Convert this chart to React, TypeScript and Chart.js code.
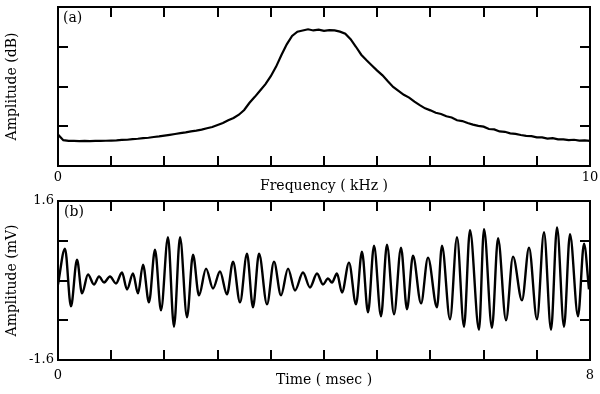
import React, { useEffect, useRef } from 'react';
import { Chart, registerables } from 'chart.js';

Chart.register(...registerables);

// ---------- Panel (a): spectrum ----------
const freqKHz = [
  0.0, 0.1, 0.2, 0.3, 0.4, 0.5, 0.6, 0.7, 0.8, 0.9,
  1.0, 1.1, 1.2, 1.3, 1.4, 1.5, 1.6, 1.7, 1.8, 1.9,
  2.0, 2.1, 2.2, 2.3, 2.4, 2.5, 2.6, 2.7, 2.8, 2.9,
  3.0, 3.1, 3.2, 3.3, 3.4, 3.5, 3.6, 3.7, 3.8, 3.9,
  4.0, 4.1, 4.2, 4.3, 4.4, 4.5, 4.6, 4.7, 4.8, 4.9,
  5.0, 5.1, 5.2, 5.3, 5.4, 5.5, 5.6, 5.7, 5.8, 5.9,
  6.0, 6.1, 6.2, 6.3, 6.4, 6.5, 6.6, 6.7, 6.8, 6.9,
  7.0, 7.1, 7.2, 7.3, 7.4, 7.5, 7.6, 7.7, 7.8, 7.9,
  8.0, 8.1, 8.2, 8.3, 8.4, 8.5, 8.6, 8.7, 8.8, 8.9,
  9.0, 9.1, 9.2, 9.3, 9.4, 9.5, 9.6, 9.7, 9.8, 9.9,
  10.0,
];
const spectrumDb = [
  7.9, 6.5, 6.3, 6.3, 6.25, 6.3, 6.25, 6.3, 6.3, 6.35,
  6.4, 6.45, 6.55, 6.6, 6.75, 6.85, 7.0, 7.1, 7.3, 7.45,
  7.65, 7.85, 8.05, 8.25, 8.45, 8.7, 8.9, 9.15, 9.5, 9.8,
  10.3, 10.8, 11.5, 12.1, 12.9, 14.1, 15.9, 17.4, 19.0, 20.6,
  22.6, 25.0, 27.9, 30.6, 32.7, 33.8, 34.1, 34.4, 34.1, 34.3,
  34.0, 34.2, 34.1, 33.8, 33.3, 31.9, 30.0, 28.0, 26.6, 25.3,
  24.0, 22.8, 21.3, 19.9, 18.9, 17.9, 17.2, 16.2, 15.3, 14.5,
  14.0, 13.4, 13.1, 12.5, 12.2, 11.5, 11.3, 10.8, 10.4, 10.1,
  9.9, 9.3, 9.2, 8.7, 8.6, 8.2, 8.1, 7.8, 7.6, 7.5,
  7.2, 7.2, 6.9, 7.0, 6.7, 6.7, 6.5, 6.6, 6.4, 6.45,
  6.3,
];
const freqTicks = [0, 1, 2, 3, 4, 5, 6, 7, 8, 9, 10];
const freqLabels = ['0', '', '', '', '', '', '', '', '', '', '10'];
const dbTicks = [0, 10, 20, 30, 40];

// ---------- Panel (b): waveform (peaks and troughs) ----------
const timeMs = [
  0.0, 0.105, 0.195, 0.286, 0.361, 0.451, 0.541, 0.617, 0.692, 0.782,
  0.872, 0.962, 1.038, 1.128, 1.203, 1.278, 1.368, 1.459, 1.549, 1.654,
  1.744, 1.835, 1.94, 2.03, 2.12, 2.226, 2.331, 2.436, 2.541, 2.632,
  2.737, 2.842, 2.932, 3.023, 3.143, 3.248, 3.353, 3.459, 3.564, 3.684,
  3.789, 3.895, 3.985, 4.06, 4.12, 4.195, 4.271, 4.376, 4.481, 4.571,
  4.662, 4.752, 4.857, 4.947, 5.053, 5.158, 5.248, 5.338, 5.459, 5.564,
  5.699, 5.774, 5.895, 6.0, 6.105, 6.195, 6.331, 6.406, 6.526, 6.617,
  6.737, 6.842, 6.977, 7.083, 7.203, 7.308, 7.414, 7.504, 7.609, 7.699,
  7.82, 7.91, 7.985,
];
const amplitudeMv = [
  -0.08, 0.64, -0.52, 0.42, -0.26, 0.12, -0.08, 0.08, -0.04, 0.08,
  -0.06, 0.16, -0.18, 0.14, -0.26, 0.32, -0.44, 0.62, -0.6, 0.87,
  -0.93, 0.87, -0.74, 0.52, -0.3, 0.24, -0.16, 0.18, -0.28, 0.38,
  -0.44, 0.54, -0.54, 0.54, -0.48, 0.38, -0.3, 0.24, -0.2, 0.16,
  -0.14, 0.14, -0.08, 0.04, -0.04, 0.14, -0.24, 0.36, -0.48, 0.58,
  -0.64, 0.7, -0.72, 0.72, -0.68, 0.66, -0.58, 0.5, -0.46, 0.46,
  -0.54, 0.7, -0.78, 0.87, -0.93, 1.01, -0.99, 1.03, -0.95, 0.85,
  -0.8, 0.48, -0.4, 0.66, -0.78, 0.97, -0.99, 1.07, -0.93, 0.93,
  -0.72, 0.74, -0.18,
];
const timeTicks = [0, 0.8, 1.6, 2.4, 3.2, 4, 4.8, 5.6, 6.4, 7.2, 8];
const timeLabels = ['0', '', '', '', '', '', '', '', '', '', '8'];
const mvTicks = [-1.6, -0.8, 0, 0.8, 1.6];
const mvLabels = ['-1.6', '', '', '', '1.6'];

const FONT = '"DejaVu Serif", serif';
const INK = '#000';

const framePlugin = {
  id: 'panelFrame',
  afterDraw(chart: any, _args: any, opts: any) {
    const { ctx, chartArea, scales } = chart;
    const { left, right, top, bottom } = chartArea;
    ctx.save();
    ctx.strokeStyle = INK;
    ctx.lineWidth = 2;
    ctx.strokeRect(left, top, right - left, bottom - top);
    const len = 10;
    ctx.beginPath();
    const xs = scales.x;
    xs.ticks.forEach((t: any) => {
      if (t.value <= xs.min || t.value >= xs.max) return;
      const p = Math.round(xs.getPixelForValue(t.value));
      ctx.moveTo(p, bottom);
      ctx.lineTo(p, bottom - len);
      ctx.moveTo(p, top);
      ctx.lineTo(p, top + len);
    });
    const ys = scales.y;
    ys.ticks.forEach((t: any) => {
      if (t.value <= ys.min || t.value >= ys.max) return;
      const p = Math.round(ys.getPixelForValue(t.value));
      ctx.moveTo(left, p);
      ctx.lineTo(left + len, p);
      ctx.moveTo(right, p);
      ctx.lineTo(right - len, p);
    });
    ctx.stroke();
    if (opts && opts.label) {
      ctx.fillStyle = INK;
      ctx.font = '14px ' + FONT;
      ctx.textBaseline = 'middle';
      ctx.textAlign = 'left';
      ctx.fillText(opts.label, left + opts.dx, top + opts.dy);
    }
    ctx.restore();
  },
};

function makeConfig(p: any) {
  return {
    type: 'line',
    data: {
      datasets: [
        {
          data: p.xs.map((x: number, i: number) => ({ x, y: p.ys[i] })),
          borderColor: INK,
          borderWidth: p.lineWidth,
          pointRadius: 0,
          fill: false,
          tension: p.smooth ? 0.4 : 0,
          cubicInterpolationMode: p.smooth ? 'monotone' : 'default',
        },
      ],
    },
    plugins: [framePlugin],
    options: {
      responsive: false,
      animation: false,
      events: [],
      layout: { padding: { top: p.padTop, right: 10, left: 0, bottom: 0 } },
      plugins: {
        legend: { display: false },
        tooltip: { enabled: false },
        panelFrame: { label: p.panel, dx: p.panelDx, dy: 11 },
      },
      scales: {
        x: {
          type: 'linear',
          min: p.xMin,
          max: p.xMax,
          afterBuildTicks: (s: any) => {
            s.ticks = p.xTicks.map((v: number) => ({ value: v }));
          },
          afterFit: (s: any) => {
            s.height = p.xHeight;
            s.paddingLeft = 0;
            s.paddingRight = 0;
          },
          grid: { display: false, drawTicks: false },
          border: { display: false },
          ticks: {
            autoSkip: false,
            maxRotation: 0,
            minRotation: 0,
            padding: p.xTickPad,
            color: INK,
            font: { family: FONT, size: 13 },
            callback: (_v: any, i: number) => p.xLabels[i],
          },
          title: {
            display: true,
            text: p.xTitle,
            color: INK,
            font: { family: FONT, size: 14 },
            padding: { top: 0, bottom: p.xTitlePad },
          },
        },
        y: {
          type: 'linear',
          min: p.yMin,
          max: p.yMax,
          afterBuildTicks: (s: any) => {
            s.ticks = p.yTicks.map((v: number) => ({ value: v }));
          },
          afterFit: (s: any) => {
            s.width = 58;
            s.paddingTop = 0;
            s.paddingBottom = 0;
          },
          grid: { display: false, drawTicks: false },
          border: { display: false },
          ticks: {
            display: p.yLabels !== null,
            padding: 4,
            color: INK,
            font: { family: FONT, size: 13 },
            callback: (_v: any, i: number) => (p.yLabels ? p.yLabels[i] : ''),
          },
          title: {
            display: true,
            text: p.yTitle,
            color: INK,
            font: { family: FONT, size: 14 },
            padding: { top: 4, bottom: 0 },
          },
        },
      },
    },
  };
}

export default function App() {
  const topRef = useRef<HTMLCanvasElement>(null);
  const botRef = useRef<HTMLCanvasElement>(null);

  useEffect(() => {
    const top = new Chart(
      topRef.current as HTMLCanvasElement,
      makeConfig({
        xs: freqKHz,
        ys: spectrumDb,
        lineWidth: 2.2,
        smooth: false,
        padTop: 7,
        panel: '(a)',
        panelDx: 5,
        xMin: 0,
        xMax: 10,
        xTicks: freqTicks,
        xLabels: freqLabels,
        xHeight: 31,
        xTickPad: 4,
        xTitle: 'Frequency ( kHz )',
        xTitlePad: 2,
        yMin: 0,
        yMax: 40,
        yTicks: dbTicks,
        yLabels: null,
        yTitle: 'Amplitude (dB)',
      }) as any
    );
    const bot = new Chart(
      botRef.current as HTMLCanvasElement,
      makeConfig({
        xs: timeMs,
        ys: amplitudeMv,
        lineWidth: 2.4,
        smooth: true,
        padTop: 14,
        panel: '(b)',
        panelDx: 6,
        xMin: 0,
        xMax: 8,
        xTicks: timeTicks,
        xLabels: timeLabels,
        xHeight: 34,
        xTickPad: 8,
        xTitle: 'Time ( msec )',
        xTitlePad: 5,
        yMin: -1.6,
        yMax: 1.6,
        yTicks: mvTicks,
        yLabels: mvLabels,
        yTitle: 'Amplitude (mV)',
      }) as any
    );
    return () => {
      top.destroy();
      bot.destroy();
    };
  }, []);

  return (
    <div
      style={{
        position: 'absolute',
        left: 0,
        top: 0,
        width: 600,
        height: 394,
        background: '#fff',
        overflow: 'hidden',
      }}
    >
      <canvas
        ref={topRef}
        width={600}
        height={197}
        style={{ position: 'absolute', left: 0, top: 0, width: 600, height: 197 }}
      />
      <canvas
        ref={botRef}
        width={600}
        height={207}
        style={{ position: 'absolute', left: 0, top: 187, width: 600, height: 207 }}
      />
    </div>
  );
}
